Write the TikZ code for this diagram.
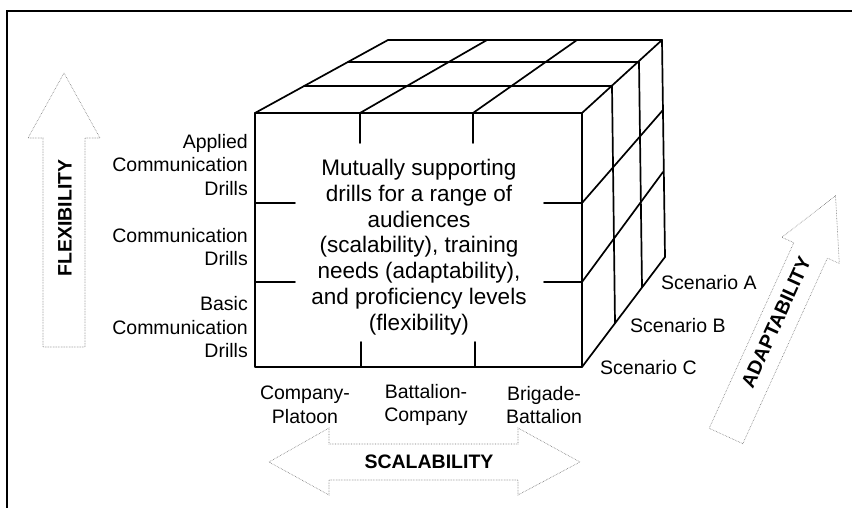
\documentclass[tikz,border=0pt]{standalone}
\usepackage{fontspec}
\setmainfont{Liberation Sans}
\begin{document}
\begin{tikzpicture}[x=1pt,y=-1pt,
  cube/.style={line width=1.7pt, line join=round, line cap=round},
  dotarrow/.style={draw=black!55, densely dotted, line width=0.6pt},
  lbl/.style={inner sep=0pt, font=\fontsize{19.5}{23.5}\selectfont},
  midtext/.style={inner sep=0pt, align=center, font=\fontsize{22.5}{25.8}\selectfont},
  axislbl/.style={inner sep=0pt, font=\bfseries\fontsize{19.5}{23}\selectfont}]
\clip (0,0) rectangle (852,508);
\draw[line width=1.5pt] (7,11) rectangle (900,560);

% front face
\draw[cube] (255,113) rectangle (582,367);
% front face stubs
\draw[cube] (255,203) -- (295,203) (255,282) -- (295,282)
            (544,203) -- (582,203) (544,282) -- (582,282)
            (360,113) -- (360,143) (473,113) -- (473,143)
            (361,367) -- (361,342) (475,367) -- (475,342);
% top face
\draw[cube] (255,113) -- (388,40) -- (662,40) -- (582,113);
\draw[cube] (304,86) -- (612,86) (348,62) -- (639,62);
\draw[cube] (360,113) -- (487,40) (473,113) -- (577,40);
% right face
\draw[cube] (582,367) -- (665,257) -- (662,40);
\draw[cube] (582,203) -- (663,110) (582,282) -- (663,172);
\draw[cube] (612,86) -- (615,323) (639,62) -- (642,287);

% centre text
\node[midtext] (centre) at (419,247) {Mutually supporting\\drills for a range of\\audiences\\(scalability), training\\needs (adaptability),\\and proficiency levels\\(flexibility)};

% left labels
\node[lbl, anchor=east, align=right] (applied) at (248,165) {Applied\\Communication\\Drills};
\node[lbl, anchor=east, align=right] (comm) at (248,247) {Communication\\Drills};
\node[lbl, anchor=east, align=right] (basic) at (248,327.5) {Basic\\Communication\\Drills};

% bottom labels
\node[lbl, align=center] (cp) at (305,405) {Company-\\Platoon};
\node[lbl, align=center] (bc) at (426,405) {Battalion-\\Company};
\node[lbl, align=center] (bb) at (544,405) {Brigade-\\Battalion};

% scenario labels
\node[lbl, anchor=west] (sa) at (661,283) {Scenario A};
\node[lbl, anchor=west] (sb) at (630,326) {Scenario B};
\node[lbl, anchor=west] (sc) at (600,368) {Scenario C};

% flexibility arrow
\draw[dotarrow] (64,73) -- (100,138) -- (85,138) -- (85,347) -- (43,347) -- (43,138) -- (28,138) -- cycle;
\node[axislbl, rotate=90] (flex) at (65,218) {FLEXIBILITY};

% scalability arrow
\draw[dotarrow] (269,462) -- (329,428) -- (329,444) -- (518,444) -- (518,428) -- (580,462)
  -- (518,495) -- (518,480) -- (329,480) -- (329,495) -- cycle;
\node[axislbl] (scal) at (429,462) {SCALABILITY};

% adaptability arrow
\draw[dotarrow] (709.2,428.3) -- (793.8,242.7) -- (781.9,237.3) -- (835.5,195.8)
  -- (839.3,263.5) -- (827.4,258.1) -- (742.8,443.7) -- cycle;
\node[axislbl, rotate=65.5] (adapt) at (776,322) {ADAPTABILITY};
\end{tikzpicture}
\end{document}
